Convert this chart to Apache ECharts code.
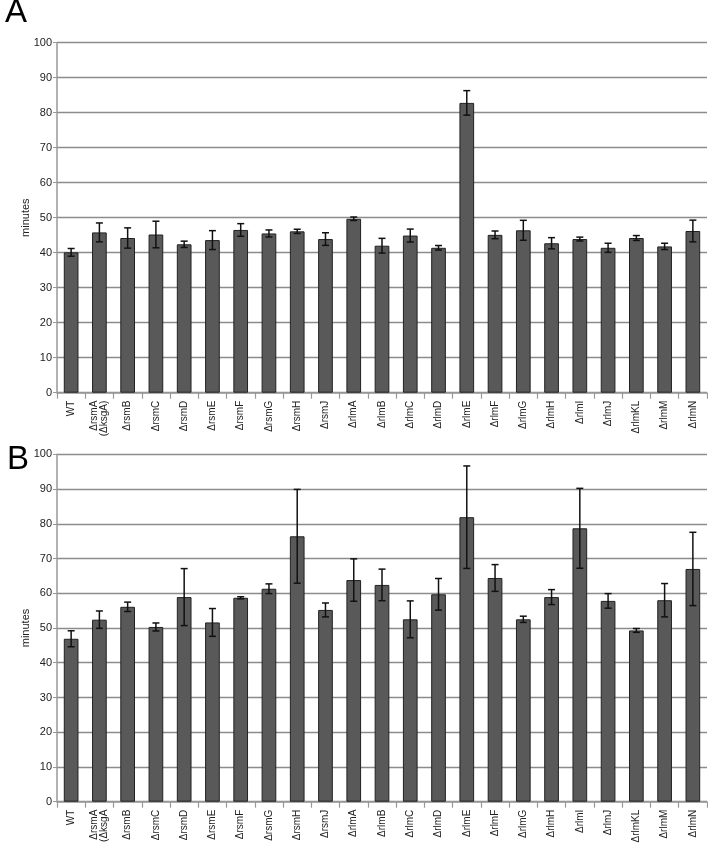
<!DOCTYPE html>
<html>
<head>
<meta charset="utf-8">
<script src="https://cdn.jsdelivr.net/npm/echarts@6/dist/echarts.min.js"></script>
<style>
html,body{margin:0;padding:0;background:#fff;}
#chart{width:708px;height:846px;}
</style>
</head>
<body>
<div id="chart"></div>
<script>
const categoriesA = ['WT','ΔrsmA\n(ΔksgA)','ΔrsmB','ΔrsmC','ΔrsmD','ΔrsmE','ΔrsmF','ΔrsmG','ΔrsmH','ΔrsmJ','ΔrlmA','ΔrlmB','ΔrlmC','ΔrlmD','ΔrlmE','ΔrlmF','ΔrlmG','ΔrlmH','ΔrlmI','ΔrlmJ','ΔrlmKL','ΔrlmM','ΔrlmN'];
const categoriesB = ['WT','ΔrsmA\n(ΔksgA','ΔrsmB','ΔrsmC','ΔrsmD','ΔrsmE','ΔrsmF','ΔrsmG','ΔrsmH','ΔrsmJ','ΔrlmA','ΔrlmB','ΔrlmC','ΔrlmD','ΔrlmE','ΔrlmF','ΔrlmG','ΔrlmH','ΔrlmI','ΔrlmJ','ΔrlmKL','ΔrlmM','ΔrlmN'];

const valuesA = [40.1,45.8,44.2,45.2,42.4,43.6,46.5,45.5,46.1,43.9,49.7,42.0,44.9,41.4,82.8,45.1,46.4,42.7,43.9,41.4,44.2,41.8,46.2];
const errorsA = [1.1,2.7,2.9,3.8,0.9,2.7,1.8,1.0,0.6,1.8,0.5,2.1,1.85,0.65,3.5,1.1,2.85,1.6,0.55,1.3,0.7,0.9,3.1];

const valuesB = [46.9,52.4,56.1,50.3,58.9,51.6,58.7,61.3,76.4,55.2,63.8,62.4,52.5,59.7,81.9,64.4,52.5,58.9,78.7,57.8,49.3,58.0,67.0];
const errorsB = [2.3,2.5,1.35,1.15,8.2,4.0,0.3,1.4,13.5,2.0,6.1,4.55,5.3,4.55,14.75,3.85,0.9,2.15,11.5,2.1,0.55,4.8,10.55];

const yTicks = [0,10,20,30,40,50,60,70,80,90,100];

const textColor = '#222';
const gridColor = '#8c8c8c';

function errRender(params, api) {
  const x = api.value(0), v = api.value(1), e = api.value(2);
  const t = api.coord([x, v + e]);
  const b = api.coord([x, v - e]);
  const cap = 3.5;
  const st = {stroke: '#111', lineWidth: 1.5};
  return {type: 'group', children: [
    {type: 'line', shape: {x1: t[0], y1: t[1], x2: b[0], y2: b[1]}, style: st},
    {type: 'line', shape: {x1: t[0]-cap, y1: t[1], x2: t[0]+cap, y2: t[1]}, style: st},
    {type: 'line', shape: {x1: b[0]-cap, y1: b[1], x2: b[0]+cap, y2: b[1]}, style: st}
  ]};
}

function xAxis(idx, cats) {
  return {
    type: 'category', gridIndex: idx, data: cats,
    axisLine: {lineStyle: {color: '#999', width: 1.5}},
    axisTick: {show: true, length: 6, lineStyle: {color: '#999', width: 1.2}},
    axisLabel: {rotate: 90, fontSize: 10, fontFamily: 'Liberation Sans, Arial', color: textColor, margin: 8, lineHeight: 10, interval: 0}
  };
}
function yAxis(idx) {
  return {
    type: 'value', gridIndex: idx, min: 0, max: 100, interval: 10,
    name: 'minutes', nameLocation: 'middle', nameGap: 26, nameMoveOverlap: false,
    nameTextStyle: {fontSize: 11, fontFamily: 'Liberation Sans, Arial', color: textColor},
    axisLine: {show: true, lineStyle: {color: '#999', width: 1.5}},
    axisTick: {show: true, length: 4, lineStyle: {color: '#999'}},
    axisLabel: {fontSize: 11, fontFamily: 'Liberation Sans, Arial', color: textColor, margin: 5,
      formatter: v => yTicks.includes(v) ? String(v) : ''},
    splitLine: {show: true, lineStyle: {color: gridColor, width: 1.3}}
  };
}
function bars(idx, vals) {
  return {
    type: 'bar', xAxisIndex: idx, yAxisIndex: idx, data: vals, barWidth: '52%',
    itemStyle: {color: '#595959', borderColor: '#222', borderWidth: 1},
    silent: true, animation: false
  };
}
function errs(idx, vals, errsArr) {
  return {
    type: 'custom', xAxisIndex: idx, yAxisIndex: idx, renderItem: errRender,
    data: vals.map((v, i) => [i, v, errsArr[i]]), encode: {x: 0, y: 1}, z: 10,
    silent: true, animation: false
  };
}

const chart = echarts.init(document.getElementById('chart'));
chart.setOption({
  animation: false,
  backgroundColor: '#fff',
  title: [
    {text: 'A', left: 0, top: -9, textStyle: {fontSize: 33, fontWeight: 'normal', color: '#000', fontFamily: 'Liberation Sans, Arial'}},
    {text: 'B', left: 2, top: 438, textStyle: {fontSize: 33, fontWeight: 'normal', color: '#000', fontFamily: 'Liberation Sans, Arial'}}
  ],
  grid: [
    {left: 57, top: 42.7, width: 650, height: 350},
    {left: 57, top: 454.3, width: 650, height: 347.4}
  ],
  xAxis: [xAxis(0, categoriesA), xAxis(1, categoriesB)],
  yAxis: [yAxis(0), yAxis(1)],
  series: [bars(0, valuesA), errs(0, valuesA, errorsA), bars(1, valuesB), errs(1, valuesB, errorsB)]
});
</script>
</body>
</html>
